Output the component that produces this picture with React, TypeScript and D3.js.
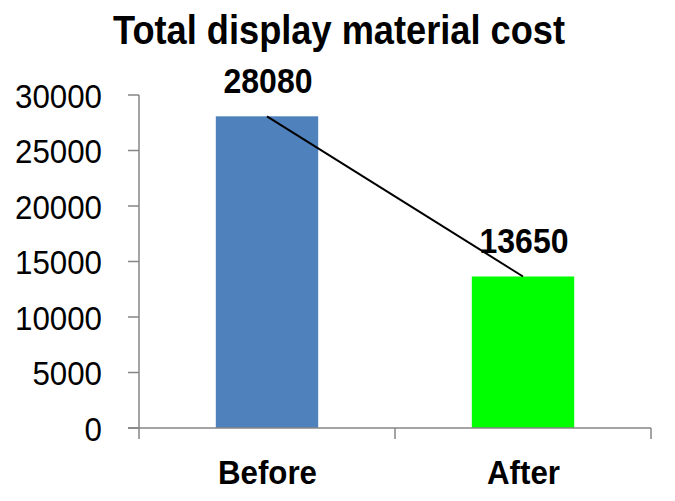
import React from "react";
import * as d3 from "d3";

const categories = ["Before", "After"];
const values = [28080, 13650];
const barColors = ["#4F81BD", "#00FF00"];
const yTicks = [0, 5000, 10000, 15000, 20000, 25000, 30000];
const title = "Total display material cost";

const W = 675;
const H = 501;
const left = 139;
const right = 651;
const top = 95;
const bottom = 428;
const narrow = "'Liberation Sans Narrow', 'Arial Narrow', 'Liberation Sans', Arial, sans-serif";
const regular = "'Liberation Sans', Arial, sans-serif";
const axisColor = "#868686";

export default function App() {
  const x = d3.scaleBand<string>().domain(categories).range([left, right]).padding(0);
  const y = d3.scaleLinear().domain([0, 30000]).range([bottom, top]);
  const bw = x.bandwidth() * 0.4;
  const cx = (c: string) => (x(c) as number) + x.bandwidth() / 2;
  const catWidths = [99, 73];
  const boundaries = [left, ...categories.map((c) => (x(c) as number) + x.bandwidth())];

  return (
    <svg width={W} height={H} style={{ position: "absolute", left: 0, top: 0, background: "#fff" }}>
      <text x={339} y={44} textAnchor="middle" fontFamily={narrow} fontWeight="bold" fontSize={40}
        textLength={452} lengthAdjust="spacingAndGlyphs">{title}</text>
      {categories.map((c, i) => (
        <rect key={c} x={cx(c) - bw / 2} y={y(values[i])} width={bw} height={bottom - y(values[i])} fill={barColors[i]} />
      ))}
      <line x1={left} x2={left} y1={top} y2={bottom} stroke={axisColor} strokeWidth={1.5} />
      {yTicks.map((t) => (
        <g key={t}>
          <line x1={left - 11} x2={left} y1={y(t)} y2={y(t)} stroke={axisColor} strokeWidth={1.5} />
          <text x={102} y={y(t) + 12.5} textAnchor="end" fontFamily={regular} fontSize={34}
            textLength={String(t).length * 17.4} lengthAdjust="spacingAndGlyphs">{t}</text>
        </g>
      ))}
      <line x1={left - 11} x2={right} y1={bottom} y2={bottom} stroke={axisColor} strokeWidth={1.5} />
      {boundaries.map((b, i) => (
        <line key={i} x1={b} x2={b} y1={bottom} y2={bottom + 11} stroke={axisColor} strokeWidth={1.5} />
      ))}
      {categories.map((c, i) => (
        <text key={c} x={cx(c) + 0.5} y={484} textAnchor="middle" fontFamily={narrow} fontWeight="bold" fontSize={34}
          textLength={catWidths[i]} lengthAdjust="spacingAndGlyphs">{c}</text>
      ))}
      {categories.map((c, i) => (
        <text key={c} x={cx(c) + 1} y={y(values[i]) - 23.5} textAnchor="middle"
          fontFamily={narrow} fontWeight="bold" fontSize={35} textLength={89} lengthAdjust="spacingAndGlyphs">{values[i]}</text>
      ))}
      <line x1={cx(categories[0])} y1={y(values[0])} x2={cx(categories[1])} y2={y(values[1])}
        stroke="#000" strokeWidth={2} />
    </svg>
  );
}
